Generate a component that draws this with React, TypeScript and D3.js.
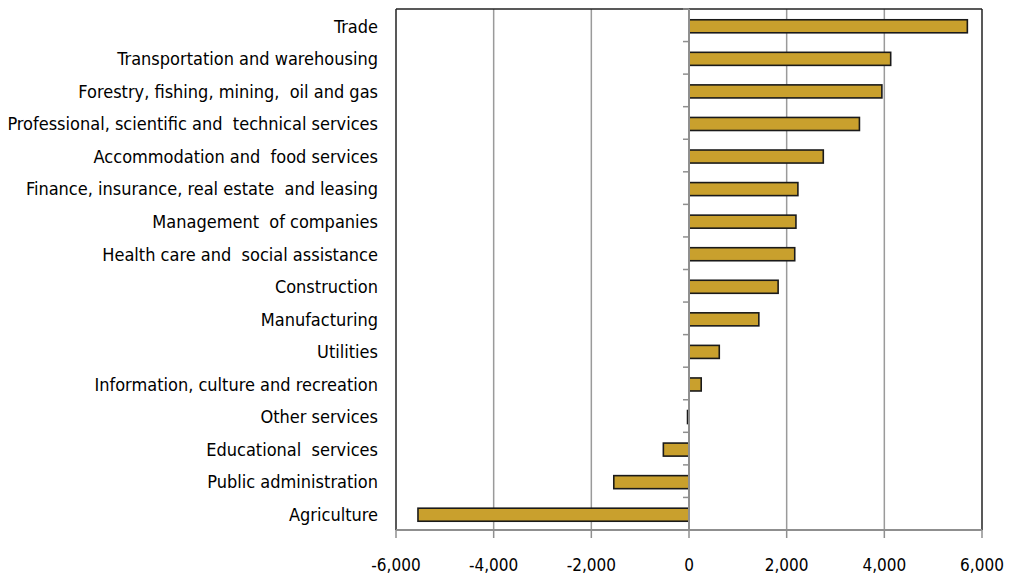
import React from "react";
import { scaleLinear, scaleBand, format } from "d3";

const categories = [
  "Trade",
  "Transportation and warehousing",
  "Forestry, fishing, mining,  oil and gas",
  "Professional, scientific and  technical services",
  "Accommodation and  food services",
  "Finance, insurance, real estate  and leasing",
  "Management  of companies",
  "Health care and  social assistance",
  "Construction",
  "Manufacturing",
  "Utilities",
  "Information, culture and recreation",
  "Other services",
  "Educational  services",
  "Public administration",
  "Agriculture",
];

const values = [
  5700, 4130, 3950, 3490, 2750, 2230, 2190, 2165, 1825, 1430, 620, 250, -30,
  -525, -1540, -5550,
];

const xTicks = [-6000, -4000, -2000, 0, 2000, 4000, 6000];

export default function App() {
  const width = 1021;
  const height = 579;
  const margin = { top: 9, right: 39, bottom: 49, left: 396 };

  const x = scaleLinear()
    .domain([-6000, 6000])
    .range([margin.left, width - margin.right]);

  const y = scaleBand<string>()
    .domain(categories)
    .range([margin.top, height - margin.bottom])
    .paddingInner(0.6)
    .paddingOuter(0.3);

  const step = y.step();
  const band0 = margin.top;
  // Excel style: plain hyphen for negatives
  const fmt = (v: number) => format(",")(v).replace("\u2212", "-");
  const font = "'Liberation Sans Narrow', 'DejaVu Sans Condensed', 'Open Sans', sans-serif";
  const plotBottom = height - margin.bottom;

  return (
    <svg
      width={width}
      height={height}
      style={{ position: "absolute", left: 0, top: 0, background: "#fff" }}
    >
      {/* grid */}
      {xTicks
        .filter((t) => t !== 0 && t !== -6000 && t !== 6000)
        .map((t) => (
          <line
            key={t}
            x1={x(t)}
            x2={x(t)}
            y1={margin.top}
            y2={plotBottom}
            stroke="#9a9a9a"
            strokeWidth={1.5}
          />
        ))}

      {/* border */}
      <line x1={x(-6000)} x2={x(6000)} y1={margin.top} y2={margin.top} stroke="#222" strokeWidth={1.5} />
      <line x1={x(-6000)} x2={x(-6000)} y1={margin.top} y2={plotBottom} stroke="#222" strokeWidth={1.5} />
      <line x1={x(6000)} x2={x(6000)} y1={margin.top} y2={plotBottom} stroke="#222" strokeWidth={1.5} />

      {/* bars */}
      {categories.map((c, i) => {
        const v = values[i];
        return (
          <rect
            key={c}
            x={Math.min(x(0), x(v))}
            y={(y(c) ?? 0) + 1}
            width={Math.abs(x(v) - x(0))}
            height={y.bandwidth()}
            fill="#C9A02D"
            stroke="#1a1a1a"
            strokeWidth={1.6}
          />
        );
      })}

      {/* zero axis with category ticks */}
      <line x1={x(0)} x2={x(0)} y1={margin.top} y2={plotBottom} stroke="#8f8f8f" strokeWidth={2} />
      {categories.map((c, i) => (
        <line
          key={"t" + i}
          x1={x(0) - 6}
          x2={x(0)}
          y1={band0 + step * i}
          y2={band0 + step * i}
          stroke="#8f8f8f"
          strokeWidth={1.5}
        />
      ))}

      {/* x axis */}
      <line x1={x(-6000)} x2={x(6000)} y1={plotBottom} y2={plotBottom} stroke="#8f8f8f" strokeWidth={2} />
      {xTicks.map((t) => (
        <g key={t}>
          <line x1={x(t)} x2={x(t)} y1={plotBottom} y2={plotBottom + 8} stroke="#8f8f8f" strokeWidth={1.5} />
          <text
            x={x(t)}
            y={plotBottom + 41}
            textAnchor="middle"
            fontFamily={font}
            fontSize={17}
            fill="#000"
          >
            {fmt(t)}
          </text>
        </g>
      ))}

      {/* category labels */}
      {categories.map((c) => (
        <text
          key={"l" + c}
          x={378}
          y={(y(c) ?? 0) + y.bandwidth() / 2 + 1}
          dy="0.35em"
          textAnchor="end"
          fontFamily={font}
          fontSize={18}
          fill="#000"
          style={{ whiteSpace: "pre" }}
        >
          {c}
        </text>
      ))}
    </svg>
  );
}
